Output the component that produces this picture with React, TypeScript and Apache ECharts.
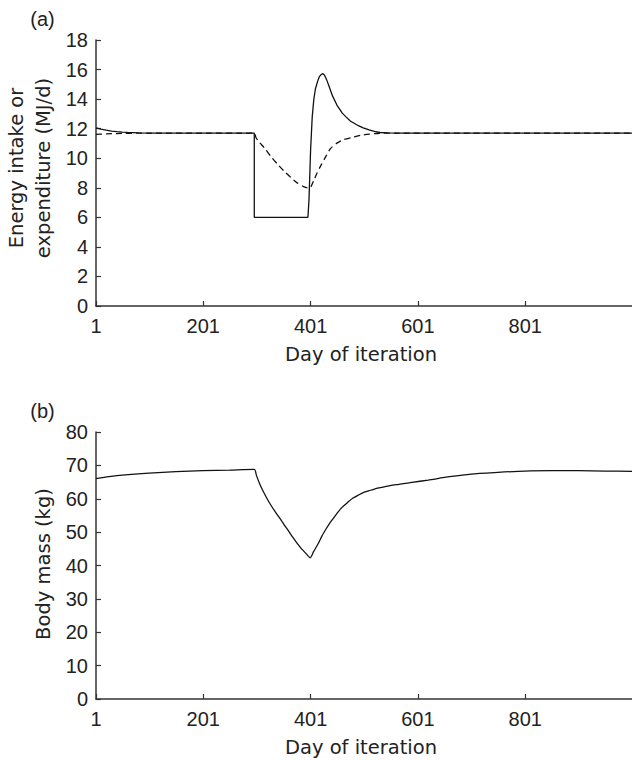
import React, { useEffect, useRef } from "react";
import * as echarts from "echarts";

// Day ticks shown on both x axes
const dayTicks = [1, 201, 401, 601, 801];

// Panel (a): energy intake (solid) [day, MJ/d]
const intakeDays = [1, 10, 20, 30, 40, 50, 60, 80, 100, 200, 296, 296, 396, 398, 401, 404, 407, 410, 414, 417, 421, 424, 427, 431, 435, 438, 442, 450, 456, 460, 467, 475, 490, 499, 510, 520, 530, 545, 560, 1000];
const intakeValues = [12.05, 11.97, 11.9, 11.84, 11.8, 11.77, 11.75, 11.72, 11.7, 11.7, 11.7, 6.0, 6.0, 7.2, 10.6, 12.8, 14.0, 14.7, 15.2, 15.5, 15.68, 15.72, 15.62, 15.3, 14.9, 14.6, 14.2, 13.6, 13.27, 13.05, 12.8, 12.52, 12.2, 12.06, 11.92, 11.82, 11.74, 11.71, 11.7, 11.7];

// Panel (a): energy expenditure (dashed) [day, MJ/d]
const expendDays = [1, 20, 50, 100, 200, 296, 299, 305, 315, 327, 340, 352, 364, 376, 388, 398, 402, 407, 413, 420, 426, 438, 450, 462, 481, 499, 530, 560, 1000];
const expendValues = [11.62, 11.65, 11.68, 11.7, 11.7, 11.7, 11.4, 11.1, 10.69, 10.12, 9.57, 9.11, 8.7, 8.33, 8.08, 7.97, 8.1, 8.5, 9.0, 9.5, 9.9, 10.65, 11.02, 11.25, 11.43, 11.58, 11.69, 11.7, 11.7];

// Panel (b): body mass [day, kg]
const massDays = [1, 25, 50, 100, 150, 200, 250, 296, 300, 305, 310, 315, 322, 330, 338, 346, 353, 360, 368, 376, 383, 390, 395, 400, 407, 415, 422, 430, 437, 445, 452, 460, 470, 480, 490, 500, 510, 520, 540, 560, 590, 620, 660, 700, 750, 800, 850, 900, 950, 1000];
const massValues = [66.0, 66.6, 67.1, 67.7, 68.1, 68.4, 68.6, 68.8, 67.0, 64.9, 63.1, 61.5, 59.4, 57.3, 55.4, 53.6, 51.9, 50.3, 48.4, 46.6, 45.2, 44.0, 43.1, 42.3, 44.3, 46.5, 48.8, 51.0, 52.8, 54.5, 56.0, 57.5, 58.9, 60.2, 61.1, 61.9, 62.4, 62.9, 63.6, 64.2, 64.9, 65.6, 66.6, 67.4, 67.9, 68.3, 68.4, 68.4, 68.3, 68.2];

const zip = (xs: number[], ys: number[]) => xs.map((x, i) => [x, ys[i]]);

const TICK_FONT = "'Liberation Sans', Arial, sans-serif";
const NAME_FONT = "'DejaVu Sans', sans-serif";
const TEXT_COLOR = "#222";
const AXIS_COLOR = "#333";

export default function App() {
  const ref = useRef<HTMLDivElement>(null);

  useEffect(() => {
    if (!ref.current) return;
    const chart = echarts.init(ref.current, undefined, { renderer: "svg" });

    const xAxisCommon = (gridIndex: number) => ({
      type: "value" as const,
      gridIndex,
      min: 1,
      max: 1000,
      axisLine: { show: true, lineStyle: { color: AXIS_COLOR, width: 1.5 } },
      axisTick: {
        show: true,
        inside: true,
        length: 5,
        customValues: dayTicks,
        lineStyle: { color: AXIS_COLOR, width: 1.2 },
      },
      axisLabel: {
        customValues: dayTicks,
        margin: 10,
        color: TEXT_COLOR,
        fontSize: 20,
        fontFamily: TICK_FONT,
      },
      splitLine: { show: false },
    });

    const yAxisCommon = (gridIndex: number, max: number, interval: number) => ({
      type: "value" as const,
      gridIndex,
      min: 0,
      max,
      interval,
      axisLine: { show: true, lineStyle: { color: AXIS_COLOR, width: 1.5 } },
      axisTick: { show: true, inside: true, length: 5, lineStyle: { color: AXIS_COLOR, width: 1.2 } },
      axisLabel: { margin: 8, color: TEXT_COLOR, fontSize: 20, fontFamily: TICK_FONT },
      splitLine: { show: false },
    });

    const nameStyle = (text: string, lineHeight = 27) => ({
      text,
      fill: TEXT_COLOR,
      font: `19.5px ${NAME_FONT}`,
      textAlign: "center",
      textVerticalAlign: "middle",
      lineHeight,
    });

    chart.setOption({
      animation: false,
      backgroundColor: "#fff",
      grid: [
        { left: 96, top: 40, width: 543, height: 266 },
        { left: 96, top: 432, width: 543, height: 267 },
      ],
      xAxis: [xAxisCommon(0), xAxisCommon(1)],
      yAxis: [yAxisCommon(0, 18, 2), yAxisCommon(1, 80, 10)],
      series: [
        {
          name: "Energy intake",
          type: "line",
          xAxisIndex: 0,
          yAxisIndex: 0,
          data: zip(intakeDays, intakeValues),
          showSymbol: false,
          lineStyle: { color: "#111", width: 1.3 },
        },
        {
          name: "Energy expenditure",
          type: "line",
          xAxisIndex: 0,
          yAxisIndex: 0,
          data: zip(expendDays, expendValues),
          showSymbol: false,
          smooth: 0.25,
          lineStyle: { color: "#111", width: 1.3, type: [6, 4] },
        },
        {
          name: "Body mass",
          type: "line",
          xAxisIndex: 1,
          yAxisIndex: 1,
          data: zip(massDays, massValues),
          showSymbol: false,
          smooth: 0.25,
          lineStyle: { color: "#111", width: 1.3 },
        },
      ],
      graphic: [
        {
          type: "text",
          x: 42.5,
          y: 19,
          style: { text: "(a)", fill: TEXT_COLOR, font: `20px ${TICK_FONT}`, textAlign: "center", textVerticalAlign: "middle" },
        },
        {
          type: "text",
          x: 42.5,
          y: 411,
          style: { text: "(b)", fill: TEXT_COLOR, font: `20px ${TICK_FONT}`, textAlign: "center", textVerticalAlign: "middle" },
        },
        {
          type: "text",
          x: 30,
          y: 168,
          rotation: Math.PI / 2,
          style: nameStyle("Energy intake or\nexpenditure (MJ/d)"),
        },
        {
          type: "text",
          x: 43,
          y: 564,
          rotation: Math.PI / 2,
          style: nameStyle("Body mass (kg)"),
        },
        {
          type: "text",
          x: 361,
          y: 354,
          style: nameStyle("Day of iteration"),
        },
        {
          type: "text",
          x: 361,
          y: 747,
          style: nameStyle("Day of iteration"),
        },
      ],
    });

    return () => chart.dispose();
  }, []);

  return (
    <div
      ref={ref}
      style={{ position: "absolute", left: 0, top: 0, width: 632, height: 760, background: "#fff" }}
    />
  );
}
